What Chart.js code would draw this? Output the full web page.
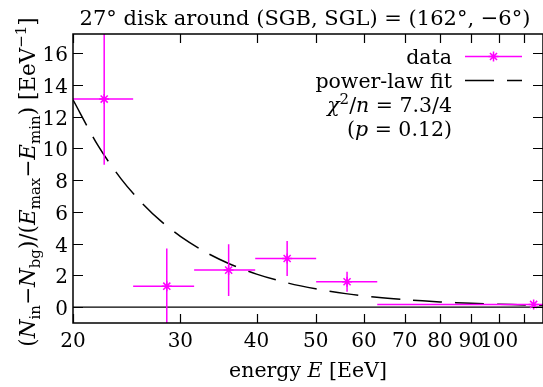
<!DOCTYPE html>
<html>
<head>
<meta charset="utf-8">
<script src="https://cdn.jsdelivr.net/npm/chart.js@4.4.1/dist/chart.umd.min.js"></script>
<style>
  html, body { margin: 0; padding: 0; background: #fff; }
  #wrap { width: 543px; height: 387px; }
</style>
</head>
<body>
<div id="wrap"><canvas id="chart" width="543" height="387"></canvas></div>
<script>
// energy bins [EeV] and the excess per unit energy in each bin
const binLow    = [20, 25.1, 31.6, 39.8, 50.1, 63.1];
const binHigh   = [25.1, 31.6, 39.8, 50.1, 63.1, 200];
const energy    = [22.5, 28.5, 36.0, 44.9, 56.3, 113.9];
const excess    = [13.1, 1.32, 2.33, 3.06, 1.60, 0.17];
const excessErr = [4.13, 2.37, 1.63, 1.10, 0.63, 0.06];

// power-law fit
const fitE = [20, 22, 24, 26, 28, 30, 33, 36, 40, 45, 50, 56, 63, 70, 80, 90, 100, 110, 118];
const fitY = [13.06, 10.15, 8.06, 6.52, 5.35, 4.46, 3.46, 2.75, 2.08, 1.52, 1.15, 0.85, 0.62, 0.47, 0.33, 0.24, 0.18, 0.14, 0.12];

const xTicks      = [20, 30, 40, 50, 60, 70, 80, 90, 100, 110];
const xTickLabels = ['20', '30', '40', '50', '60', '70', '80', '90', '100', ''];
const yTicks      = [0, 2, 4, 6, 8, 10, 12, 14, 16];

const titleText = '27° disk around (SGB, SGL) = (162°, −6°)';
const legendRows = ['data', 'power-law fit'];
const fitStats = [[['χ', 'i'], ['2', 'sup'], ['/', ''], ['n', 'i'], [' = 7.3/4', '']],
                  [['(', ''], ['p', 'i'], [' = 0.12)', '']]];

const MAGENTA = '#ff00ff';
const SERIF = "'DejaVu Serif', serif";
const FS = 20;
const DASH = [29, 13];

function font(size, italic) {
  return (italic ? 'italic ' : '') + size + 'px ' + SERIF;
}

// parts: [text, style] with style '' | 'i' | 'sub' | 'sup'
function partFont(style, size) {
  if (style === 'sub' || style === 'sup') return font(Math.round(size * 0.72), false);
  return font(size, style === 'i');
}
function partShift(style, size) {
  if (style === 'sub') return size * 0.22;
  if (style === 'sup') return -size * 0.4;
  return 0;
}
function richWidth(ctx, parts, size) {
  let w = 0;
  parts.forEach(([t, s]) => { ctx.font = partFont(s, size); w += ctx.measureText(t).width; });
  return w;
}
function drawRich(ctx, parts, x, y, size, align) {
  const w = richWidth(ctx, parts, size);
  let cx = align === 'center' ? x - w / 2 : align === 'right' ? x - w : x;
  ctx.textAlign = 'left';
  ctx.textBaseline = 'alphabetic';
  parts.forEach(([t, s]) => {
    ctx.font = partFont(s, size);
    ctx.fillText(t, cx, y + partShift(s, size));
    cx += ctx.measureText(t).width;
  });
}

const xErrData = [];
const yErrData = [];
energy.forEach((e, i) => {
  xErrData.push({ x: binLow[i], y: excess[i] }, { x: binHigh[i], y: excess[i] }, { x: e, y: null });
  yErrData.push({ x: e, y: excess[i] - excessErr[i] }, { x: e, y: excess[i] + excessErr[i] }, { x: e, y: null });
});

const frame = {
  id: 'frame',
  afterDraw(chart) {
    const ctx = chart.ctx;
    const a = chart.chartArea;
    const xs = chart.scales.x, ys = chart.scales.y;
    ctx.save();
    ctx.fillStyle = '#000';
    ctx.strokeStyle = '#000';
    ctx.lineWidth = 1.5;
    ctx.strokeRect(a.left, a.top, a.right - a.left, a.bottom - a.top);

    // inward ticks on all four sides
    ctx.lineWidth = 1.2;
    ctx.beginPath();
    xTicks.forEach(v => {
      const px = Math.round(xs.getPixelForValue(v)) + 0.5;
      ctx.moveTo(px, a.bottom); ctx.lineTo(px, a.bottom - 9);
      ctx.moveTo(px, a.top); ctx.lineTo(px, a.top + 9);
    });
    yTicks.forEach(v => {
      const py = Math.round(ys.getPixelForValue(v)) + 0.5;
      ctx.moveTo(a.left, py); ctx.lineTo(a.left + 10, py);
      ctx.moveTo(a.right, py); ctx.lineTo(a.right - 10, py);
    });
    ctx.stroke();

    // tick labels
    ctx.font = font(FS, false);
    ctx.textAlign = 'center';
    ctx.textBaseline = 'alphabetic';
    xTicks.forEach((v, i) => ctx.fillText(xTickLabels[i], xs.getPixelForValue(v), 347));
    ctx.textAlign = 'right';
    yTicks.forEach(v => ctx.fillText(String(v), 68, ys.getPixelForValue(v) + 8));

    // title and axis titles
    ctx.font = font(21, false);
    ctx.textAlign = 'center';
    ctx.fillText(titleText, 305, 25);
    drawRich(ctx, [['energy ', ''], ['E', 'i'], [' [EeV]', '']], 308, 377, 20.5, 'center');

    ctx.save();
    ctx.translate(35, 182);
    ctx.rotate(-Math.PI / 2);
    drawRich(ctx, [['(', ''], ['N', 'i'], ['in', 'sub'], ['−', ''], ['N', 'i'], ['bg', 'sub'],
                   [')/(', ''], ['E', 'i'], ['max', 'sub'], ['−', ''], ['E', 'i'], ['min', 'sub'],
                   [') [EeV', ''], ['−1', 'sup'], [']', '']], 0, 0, 21.5, 'center');
    ctx.restore();

    // key
    ctx.font = font(20.5, false);
    ctx.textAlign = 'right';
    ctx.fillText(legendRows[0], 452, 64);
    ctx.fillText(legendRows[1], 452, 88);
    drawRich(ctx, fitStats[0], 452, 112, 20.5, 'right');
    drawRich(ctx, fitStats[1], 452, 136, 20.5, 'right');

    ctx.strokeStyle = MAGENTA;
    ctx.lineWidth = 1.5;
    ctx.beginPath();
    ctx.moveTo(465, 56.5); ctx.lineTo(522, 56.5);
    ctx.stroke();
    const r = 5;
    ctx.beginPath();
    for (let k = 0; k < 4; k++) {
      const ang = k * Math.PI / 4;
      ctx.moveTo(493.5 - r * Math.cos(ang), 56.5 - r * Math.sin(ang));
      ctx.lineTo(493.5 + r * Math.cos(ang), 56.5 + r * Math.sin(ang));
    }
    ctx.stroke();

    ctx.strokeStyle = '#000';
    ctx.setLineDash(DASH);
    ctx.beginPath();
    ctx.moveTo(465, 80.5); ctx.lineTo(522, 80.5);
    ctx.stroke();
    ctx.restore();
  }
};

new Chart(document.getElementById('chart'), {
  type: 'scatter',
  data: {
    datasets: [
      {
        label: 'data',
        data: energy.map((e, i) => ({ x: e, y: excess[i] })),
        pointStyle: 'star',
        pointRadius: 5,
        pointBorderWidth: 1.5,
        borderColor: MAGENTA,
        backgroundColor: MAGENTA,
        showLine: false,
      },
      {
        label: 'xerr',
        data: xErrData,
        showLine: true,
        spanGaps: false,
        pointRadius: 0,
        borderColor: MAGENTA,
        borderWidth: 1.5,
      },
      {
        label: 'yerr',
        data: yErrData,
        showLine: true,
        spanGaps: false,
        pointRadius: 0,
        borderColor: MAGENTA,
        borderWidth: 1.5,
      },
      {
        label: 'power-law fit',
        data: fitE.map((e, i) => ({ x: e, y: fitY[i] })),
        showLine: true,
        tension: 0.3,
        pointRadius: 0,
        borderColor: '#000',
        borderWidth: 1.5,
        borderDash: DASH,
      },
      {
        label: 'zero',
        data: [{ x: 20, y: 0 }, { x: 200, y: 0 }],
        showLine: true,
        pointRadius: 0,
        borderColor: '#000',
        borderWidth: 1.2,
      },
    ],
  },
  options: {
    responsive: false,
    animation: false,
    events: [],
    layout: { autoPadding: false, padding: { left: 73, right: 0, top: 34, bottom: 64 } },
    plugins: { legend: { display: false }, tooltip: { enabled: false }, title: { display: false } },
    scales: {
      x: {
        type: 'logarithmic',
        min: 20,
        max: 118,
        grid: { display: false },
        border: { display: false },
        ticks: { display: false },
        afterFit: s => { s.height = 0; },
      },
      y: {
        min: -1,
        max: 17.2,
        grid: { display: false },
        border: { display: false },
        ticks: { display: false },
        afterFit: s => { s.width = 0; },
      },
    },
  },
  plugins: [frame],
});
</script>
</body>
</html>
